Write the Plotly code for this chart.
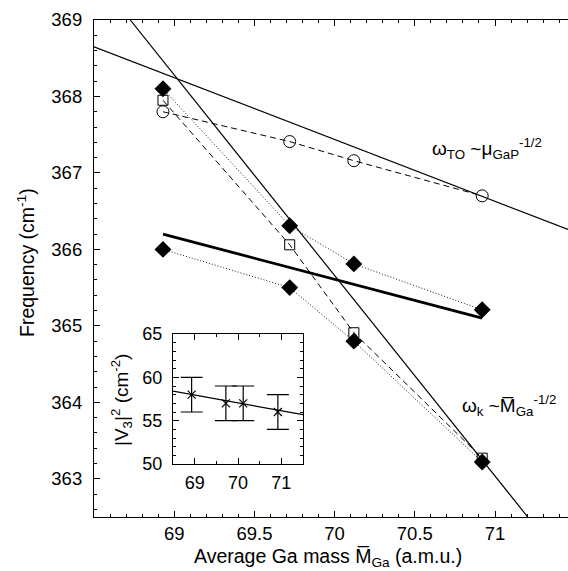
import plotly.graph_objects as go

# ---- data ----
mass = [68.93, 69.72, 70.12, 70.92]
w_to = [367.80, 367.41, 367.16, 366.70]      # open circles, dashed
w_sq = [367.95, 366.06, 364.91, 363.27]      # open squares, dashed
w_da = [368.10, 366.31, 365.81, 365.21]      # filled diamonds, dotted (upper)
w_db = [366.00, 365.50, 364.80, 363.22]      # filled diamonds, dotted (lower)

to_fit_x = [68.5, 71.455]
to_fit_y = [368.65, 366.26]
k_fit_x = [68.726, 71.204]
k_fit_y = [369.0, 362.5]
thick_x = [68.93, 70.92]
thick_y = [366.20, 365.10]

v3 = [58.0, 57.0, 57.0, 56.0]
v3_err = [2.0, 2.0, 2.0, 2.0]
v3_fit_x = [68.5, 71.5]
v3_fit_y = [58.4, 55.7]

x_ticks = [69, 69.5, 70, 70.5, 71]
y_ticks = [363, 364, 365, 366, 367, 368, 369]
ix_ticks = [69, 70, 71]
iy_ticks = [50, 55, 60, 65]

FONT = "Liberation Sans, Arial, sans-serif"
W, H = 568, 571
L, R, T, B = 94, 0, 20, 54
pw, ph = W - L - R, H - T - B

def px_x(p):
    return (p - L) / pw

def px_y(p):
    return (H - B - p) / ph

fig = go.Figure()

fig.add_trace(go.Scatter(x=to_fit_x, y=to_fit_y, mode="lines", line=dict(color="black", width=1.2)))
fig.add_trace(go.Scatter(x=k_fit_x, y=k_fit_y, mode="lines", line=dict(color="black", width=1.2)))
fig.add_trace(go.Scatter(x=thick_x, y=thick_y, mode="lines", line=dict(color="black", width=2.8)))

fig.add_trace(go.Scatter(x=mass, y=w_to, mode="lines+markers",
                         line=dict(color="black", width=1, dash="6px,4px"),
                         marker=dict(symbol="circle-open", size=12, color="black", line=dict(width=1))))
fig.add_trace(go.Scatter(x=mass, y=w_sq, mode="lines+markers",
                         line=dict(color="black", width=1, dash="6px,4px"),
                         marker=dict(symbol="square-open", size=10, color="black", line=dict(width=1))))
fig.add_trace(go.Scatter(x=mass, y=w_da, mode="lines+markers",
                         line=dict(color="black", width=0.9, dash="1px,2px"),
                         marker=dict(symbol="diamond", size=13, color="black")))
fig.add_trace(go.Scatter(x=mass, y=w_db, mode="lines+markers",
                         line=dict(color="black", width=0.9, dash="1px,2px"),
                         marker=dict(symbol="diamond", size=13, color="black")))

# inset
fig.add_trace(go.Scatter(x=v3_fit_x, y=v3_fit_y, mode="lines", xaxis="x2", yaxis="y2",
                         line=dict(color="black", width=1.2)))
fig.add_trace(go.Scatter(x=mass, y=v3, mode="markers", xaxis="x2", yaxis="y2",
                         marker=dict(symbol="x-thin", size=8, color="black", line=dict(width=1.2, color="black")),
                         error_y=dict(type="data", array=v3_err, visible=True, color="black",
                                      thickness=1.2, width=11)))

common = dict(showgrid=False, zeroline=False, showline=True, linecolor="black", linewidth=1.2,
              ticks="inside", tickcolor="black", tickwidth=1)
main_tf = dict(family=FONT, size=18.5, color="black")
inset_tf = dict(family=FONT, size=18, color="black")

fig.update_layout(
    width=W, height=H,
    margin=dict(l=L, r=R, t=T, b=B, pad=0),
    paper_bgcolor="white", plot_bgcolor="white",
    showlegend=False,
    font=dict(family=FONT, color="black"),
    xaxis=dict(range=[68.5, 71.455], tickvals=x_ticks, ticktext=[str(v) for v in x_ticks],
               ticklen=6, mirror="allticks", tickfont=main_tf, ticklabelstandoff=0,
               minor=dict(dtick=0.1, ticklen=3, ticks="inside", tickcolor="black", showgrid=False),
               **common),
    yaxis=dict(range=[362.5, 369], tickvals=y_ticks, ticklen=6, mirror=False, tickfont=main_tf,
               ticklabelstandoff=7,
               minor=dict(dtick=0.2, ticklen=3, ticks="inside", tickcolor="black", showgrid=False),
               **common),
    xaxis2=dict(domain=[px_x(173), px_x(303)], anchor="y2", range=[68.5, 71.5], tickvals=ix_ticks,
                ticklen=6, mirror="allticks", tickfont=inset_tf, ticklabelstandoff=2,
                minor=dict(dtick=0.5, ticklen=3, ticks="inside", tickcolor="black", showgrid=False),
                **common),
    yaxis2=dict(domain=[px_y(464), px_y(334)], anchor="x2", range=[50, 65], tickvals=iy_ticks,
                ticklen=6, mirror="allticks", tickfont=inset_tf, ticklabelstandoff=6,
                minor=dict(dtick=1, ticklen=3, ticks="inside", tickcolor="black", showgrid=False),
                **common),
)

ann_font = dict(family=FONT, size=19, color="black")
title_font = dict(family=FONT, size=19.5, color="black")
fig.add_annotation(xref="paper", yref="paper", x=px_x(430), y=px_y(148), xanchor="left", yanchor="middle",
                   text="ω<sub>TO</sub> ~μ<sub>GaP</sub><sup>-1/2</sup>", showarrow=False, font=ann_font)
fig.add_annotation(xref="paper", yref="paper", x=px_x(460), y=px_y(405), xanchor="left", yanchor="middle",
                   text="ω<sub>k</sub> ~M\u0305<sub>Ga</sub><sup>-1/2</sup>", showarrow=False, font=ann_font)
fig.add_annotation(xref="paper", yref="paper", x=px_x(328), y=px_y(571), xanchor="center", yanchor="bottom",
                   text="Average Ga mass M\u0305<sub>Ga</sub> (a.m.u.)", showarrow=False, font=title_font,
                   borderpad=0)
fig.add_annotation(xref="paper", yref="paper", x=px_x(26), y=px_y(263), xanchor="center", yanchor="middle",
                   text="Frequency (cm<sup>-1</sup>)", textangle=-90, showarrow=False, font=title_font)
fig.add_annotation(xref="paper", yref="paper", x=px_x(121), y=px_y(400), xanchor="center", yanchor="middle",
                   text="|V<sub>3</sub>|<sup>2</sup> (cm<sup>-2</sup>)", textangle=-90, showarrow=False,
                   font=dict(family=FONT, size=19, color="black"))

fig.write_html("out.html", config={"displayModeBar": False},
               post_script="document.body.style.margin='0';document.body.style.padding='0';"
                           "document.body.style.overflow='hidden';")
